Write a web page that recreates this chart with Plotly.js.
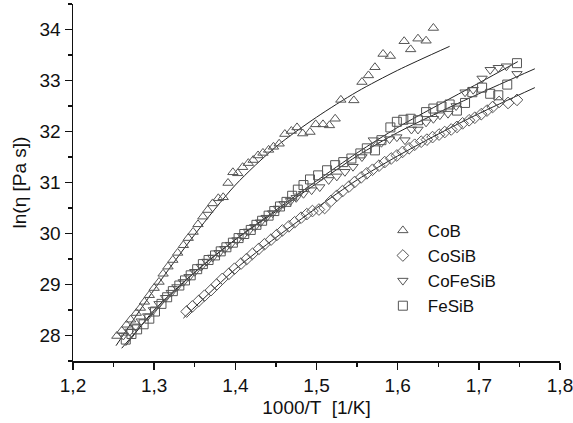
<!DOCTYPE html>
<html>
<head>
<meta charset="utf-8">
<script src="https://cdn.plot.ly/plotly-3.0.1.min.js"></script>
<style>html,body{margin:0;padding:0;background:#fff;}#chart{width:573px;height:423px;}</style>
</head>
<body>
<div id="chart"></div>
<script>
// CoB (triangles up)
const cobX = [1.254,1.260,1.266,1.271,1.278,1.283,1.288,1.294,1.300,1.306,1.311,1.317,1.323,1.329,1.336,1.342,1.348,1.354,1.360,1.366,1.372,1.379,1.385,1.391,1.397,1.403,1.409,1.416,1.422,1.428,1.434,1.441,1.447,1.454,1.461,1.469,1.476,1.483,1.492,1.499,1.508,1.516,1.523,1.530,1.546,1.556,1.564,1.572,1.582,1.591,1.608,1.616,1.625,1.635,1.644];
const cobY = [27.99,28.09,28.21,28.31,28.44,28.54,28.66,28.79,28.93,29.05,29.21,29.35,29.48,29.62,29.77,29.91,30.03,30.18,30.33,30.46,30.59,30.69,30.71,30.99,31.20,31.18,31.30,31.38,31.44,31.53,31.58,31.64,31.70,31.76,31.95,32.01,32.08,31.96,31.99,32.14,32.14,32.12,32.25,32.62,32.61,32.97,33.10,33.26,33.52,33.48,33.77,33.61,33.82,33.78,34.03];

// CoSiB (diamonds)
const cosibX = [1.340,1.347,1.355,1.362,1.370,1.377,1.384,1.392,1.399,1.407,1.414,1.421,1.429,1.436,1.444,1.451,1.458,1.466,1.473,1.481,1.488,1.495,1.503,1.510,1.518,1.525,1.532,1.540,1.547,1.555,1.562,1.569,1.577,1.584,1.592,1.599,1.606,1.614,1.621,1.629,1.636,1.643,1.651,1.658,1.666,1.673,1.680,1.688,1.695,1.703,1.710,1.717,1.725,1.736,1.747];
const cosibY = [28.47,28.57,28.68,28.78,28.89,29.00,29.11,29.21,29.31,29.41,29.50,29.60,29.70,29.79,29.88,29.97,30.06,30.14,30.22,30.31,30.38,30.44,30.47,30.50,30.64,30.74,30.83,30.92,31.01,31.10,31.18,31.25,31.33,31.40,31.47,31.53,31.60,31.67,31.74,31.80,31.84,31.89,31.94,31.99,32.04,32.09,32.16,32.22,32.27,32.34,32.41,32.48,32.58,32.56,32.62];

// CoFeSiB (triangles down)
const cofesibX = [1.262,1.270,1.277,1.284,1.292,1.299,1.306,1.314,1.321,1.328,1.336,1.343,1.350,1.358,1.365,1.372,1.380,1.387,1.394,1.402,1.409,1.416,1.424,1.431,1.438,1.446,1.453,1.460,1.468,1.475,1.484,1.494,1.504,1.515,1.525,1.535,1.545,1.556,1.570,1.580,1.590,1.599,1.609,1.617,1.625,1.635,1.644,1.652,1.662,1.672,1.683,1.693,1.704,1.714,1.724,1.734,1.747];
const cofesibY = [28.00,28.08,28.18,28.28,28.38,28.50,28.62,28.74,28.84,28.95,29.05,29.15,29.25,29.35,29.45,29.53,29.62,29.70,29.78,29.87,29.95,30.04,30.13,30.22,30.31,30.40,30.49,30.58,30.64,30.70,30.78,30.85,30.91,31.05,31.12,31.21,31.31,31.50,31.83,31.78,31.85,31.89,31.83,32.04,32.04,32.18,32.25,32.32,32.35,32.50,32.77,32.82,33.04,33.21,33.25,33.28,33.13];

// FeSiB (squares)
const fesibX = [1.265,1.272,1.279,1.287,1.294,1.301,1.309,1.316,1.323,1.331,1.338,1.345,1.353,1.360,1.367,1.375,1.382,1.389,1.397,1.404,1.411,1.419,1.426,1.433,1.441,1.448,1.455,1.463,1.470,1.477,1.484,1.492,1.502,1.513,1.523,1.533,1.543,1.554,1.562,1.572,1.580,1.591,1.599,1.607,1.616,1.625,1.635,1.644,1.654,1.664,1.673,1.683,1.692,1.704,1.714,1.724,1.735,1.747];
const fesibY = [27.92,28.03,28.12,28.22,28.33,28.47,28.62,28.75,28.87,28.98,29.08,29.18,29.30,29.40,29.48,29.57,29.65,29.73,29.82,29.91,29.99,30.07,30.17,30.25,30.35,30.44,30.53,30.62,30.74,30.86,30.95,31.06,31.14,31.24,31.34,31.40,31.47,31.57,31.67,31.63,31.83,32.08,32.19,32.23,32.25,32.22,32.38,32.45,32.49,32.53,32.41,32.56,32.77,32.86,32.74,32.71,32.92,33.34];

// Fit curves
const fitCobX = [1.253,1.30,1.35,1.40,1.45,1.50,1.55,1.60,1.664];
const fitCobY = [27.80,28.90,29.98,30.95,31.70,32.28,32.78,33.20,33.67];
const fitCosibX = [1.336,1.40,1.45,1.50,1.55,1.60,1.65,1.70,1.769];
const fitCosibY = [28.34,29.30,29.92,30.50,31.05,31.52,31.95,32.35,32.86];
const fitCofesibX = [1.265,1.30,1.35,1.40,1.45,1.50,1.55,1.60,1.65,1.70,1.769];
const fitCofesibY = [27.80,28.50,29.24,29.88,30.43,30.98,31.52,31.98,32.37,32.74,33.23];
const fitFesibX = [1.260,1.30,1.35,1.40,1.45,1.50,1.55,1.60,1.65,1.70,1.748];
const fitFesibY = [27.75,28.47,29.24,29.88,30.46,31.03,31.58,32.08,32.52,32.95,33.37];

const names = ['CoB','CoSiB','CoFeSiB','FeSiB'];
const xTickVals = [1.2,1.3,1.4,1.5,1.6,1.7,1.8];
const yTickVals = [28,29,30,31,32,33,34];

const mk = (sym) => ({symbol: sym, size: 9, color: '#555', line: {color: '#555', width: 1}});
const fitLine = (x, y) => ({x: x, y: y, mode: 'lines', type: 'scatter', showlegend: false,
  line: {color: '#222', width: 1, shape: 'spline', smoothing: 0.8}, hoverinfo: 'skip'});

const traces = [
  fitLine(fitCobX, fitCobY),
  fitLine(fitCosibX, fitCosibY),
  fitLine(fitCofesibX, fitCofesibY),
  fitLine(fitFesibX, fitFesibY),
  {x: cobX, y: cobY, name: names[0], mode: 'markers', type: 'scatter', marker: mk('triangle-up-open')},
  {x: cosibX, y: cosibY, name: names[1], mode: 'markers', type: 'scatter', marker: mk('diamond-open')},
  {x: cofesibX, y: cofesibY, name: names[2], mode: 'markers', type: 'scatter', marker: mk('triangle-down-open')},
  {x: fesibX, y: fesibY, name: names[3], mode: 'markers', type: 'scatter', marker: mk('square-open')}
];

const fam = 'Liberation Sans, Arial, sans-serif';
const font = {family: fam, size: 19, color: '#111'};

const layout = {
  width: 573, height: 423,
  margin: {l: 73, r: 13, t: 4, b: 62},
  paper_bgcolor: '#fff', plot_bgcolor: '#fff',
  font: font,
  separators: ', ',
  showlegend: true,
  legend: {x: 0.626, y: 0.415, xanchor: 'left', yanchor: 'top', bgcolor: 'rgba(0,0,0,0)',
    itemwidth: 40,
    font: {family: fam, size: 17, color: '#111'}, tracegroupgap: 0},
  xaxis: {
    range: [1.2, 1.8], tickvals: xTickVals, ticktext: xTickVals.map(v => v.toFixed(1).replace('.', ',')),
    ticklabeloverflow: 'allow',
    showgrid: false, zeroline: false, showline: true, linecolor: '#111', linewidth: 1.5,
    ticks: 'outside', ticklen: 7, tickwidth: 1.5, tickcolor: '#111',
    minor: {dtick: 0.05, ticks: 'outside', ticklen: 4, tickwidth: 1.2, tickcolor: '#111', showgrid: false},
    tickfont: {family: fam, size: 19, color: '#111'},
    title: {text: '1000/T  [1/K]', font: {family: fam, size: 19, color: '#111'}, standoff: 5}
  },
  yaxis: {
    range: [27.5, 34.5], tickvals: yTickVals, ticktext: yTickVals.map(String),
    showgrid: false, zeroline: false, showline: true, linecolor: '#111', linewidth: 1.5,
    ticks: 'outside', ticklen: 7, tickwidth: 1.5, tickcolor: '#111',
    minor: {dtick: 0.5, ticks: 'outside', ticklen: 4, tickwidth: 1.2, tickcolor: '#111', showgrid: false},
    tickfont: {family: fam, size: 19, color: '#111'},
    title: {text: 'ln(η [Pa s])', font: {family: fam, size: 19, color: '#111'}, standoff: 8}
  }
};

Plotly.newPlot('chart', traces, layout, {displayModeBar: false, staticPlot: true});
</script>
</body>
</html>
